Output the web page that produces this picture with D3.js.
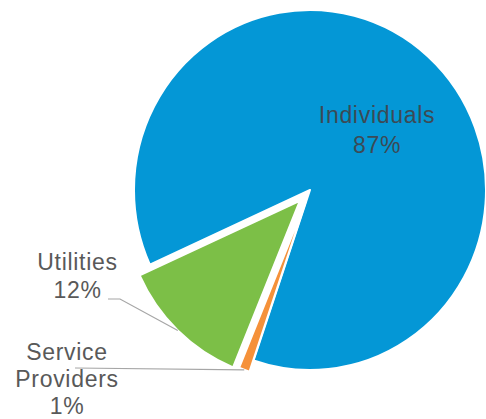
<!DOCTYPE html>
<html>
<head>
<meta charset="utf-8">
<script src="https://cdn.jsdelivr.net/npm/d3@7"></script>
<style>
  html, body { margin: 0; padding: 0; background: #fff; }
  svg { display: block; }
  text { font-family: "Liberation Sans", Arial, sans-serif; }
</style>
</head>
<body>
<div id="chart"></div>
<script>
// ---- data ----
const categories = ["Individuals", "Service Providers", "Utilities"];
const values = [87, 1, 12];
const labelLines = [["Individuals", "87%"], ["Service", "Providers", "1%"], ["Utilities", "12%"]];

// ---- style / layout ----
const colors = ["#0497D6", "#F5913A", "#7CBF47"];
const explode = [0, 12, 15];
const W = 486, H = 419;
const cx = 310, cy = 190, R = 180, sx = 176 / 180;
const startDeg = 245.5;

// label layout: anchor x, first baseline, line gap, colour, leader start points
const labelLayout = [
  { x: 377, y: 123, gap: 30, color: "#3c4a55", leader: null },
  { x: 67, y: 360, gap: 27, color: "#595959", leader: [[75, 368]] },
  { x: 77.5, y: 270, gap: 28, color: "#595959", leader: [[108, 299], [120, 299]] }
];

const svg = d3.select("#chart").append("svg").attr("width", W).attr("height", H);

const pie = d3.pie().sort(null).value(d => d)
  .startAngle(startDeg * Math.PI / 180)
  .endAngle(startDeg * Math.PI / 180 + 2 * Math.PI);
const arc = d3.arc().innerRadius(0).outerRadius(R);
const arcs = pie(values);

const centres = arcs.map((d, i) => {
  const mid = (d.startAngle + d.endAngle) / 2;
  const off = explode[i];
  return { mid, tx: cx + sx * off * Math.sin(mid), ty: cy - off * Math.cos(mid) };
});

// slices
arcs.forEach((d, i) => {
  const c = centres[i];
  svg.append("g")
    .attr("transform", `translate(${c.tx},${c.ty}) scale(${sx},1)`)
    .append("path")
    .attr("d", arc(d))
    .attr("fill", colors[i])
    .attr("stroke", "#fff")
    .attr("stroke-width", 2)
    .attr("stroke-linejoin", "round")
    .attr("vector-effect", "non-scaling-stroke");
});

// leader lines
labelLayout.forEach((L, i) => {
  if (!L.leader) return;
  const c = centres[i];
  const end = [c.tx + sx * R * Math.sin(c.mid), c.ty - R * Math.cos(c.mid)];
  const pts = L.leader.concat([end]);
  svg.append("path")
    .attr("d", d3.line()(pts))
    .attr("fill", "none")
    .attr("stroke", "#a6a6a6")
    .attr("stroke-width", 1.2);
});

// labels
labelLayout.forEach((L, i) => {
  const t = svg.append("text")
    .attr("text-anchor", "middle")
    .attr("fill", L.color)
    .attr("font-size", 23)
    .attr("letter-spacing", 0.7);
  labelLines[i].forEach((s, j) => {
    t.append("tspan").attr("x", L.x).attr("y", L.y + j * L.gap).text(s);
  });
});
</script>
</body>
</html>
